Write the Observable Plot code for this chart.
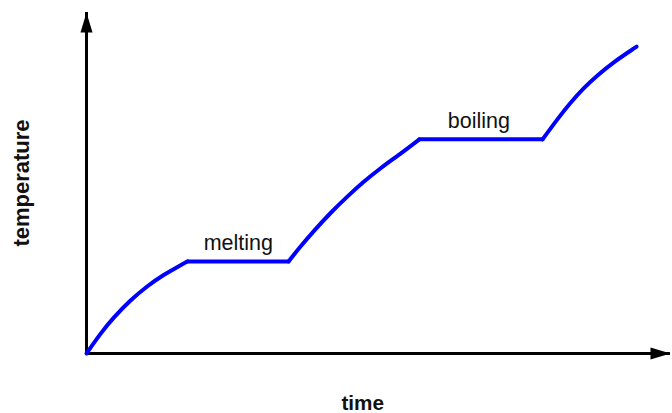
<!DOCTYPE html>
<html>
<head>
<meta charset="utf-8">
<script src="https://cdn.jsdelivr.net/npm/d3@7"></script>
<script src="https://cdn.jsdelivr.net/npm/@observablehq/plot@0.6"></script>
<style>
  html, body { margin: 0; padding: 0; background: #fff; }
  #chart svg { display: block; }
</style>
</head>
<body>
<div id="chart"></div>
<script>
// Heating curve (arbitrary units, 0–100 on both axes);
// each phase segment repeats its boundary points so the segments join.
const phase = [
  "solid","solid","solid","solid","solid","solid","solid","solid",
  "melting","melting",
  "liquid","liquid","liquid","liquid","liquid","liquid","liquid","liquid","liquid","liquid",
  "boiling","boiling",
  "gas","gas","gas","gas","gas","gas","gas"
];
const time = [
  0, 2.4, 4.6, 7.5, 10.4, 13.2, 16.1, 17.3,
  17.3, 34.6,
  34.6, 36.6, 38.9, 41.8, 44.7, 47.4, 50.3, 53.3, 56.0, 57.0,
  57.0, 78.1,
  78.1, 80.7, 82.9, 85.1, 87.5, 90.2, 94.2
];
const temperature = [
  0, 5.9, 10.5, 15.6, 19.8, 23.1, 25.9, 27.0,
  27.0, 27.0,
  27.0, 31.3, 35.9, 41.3, 46.1, 50.3, 54.3, 58.0, 61.5, 62.8,
  62.8, 62.8,
  62.8, 68.9, 73.6, 77.8, 81.6, 85.4, 90.0
];

const phaseLabels = ["melting", "boiling"];
const phaseX = [26.0, 67.2];
const phaseY = [30.4, 66.0];

const xTitle = "time";
const yTitle = "temperature";
const axisMax = 100;

const curve = time.map((t, i) => ({time: t, temperature: temperature[i], phase: phase[i]}));
const phases = phaseLabels.map((label, i) => ({label, x: phaseX[i], y: phaseY[i]}));

const arrowHead = {
  draw(ctx) {
    ctx.moveTo(0, 0);
    ctx.lineTo(6, 20);
    ctx.lineTo(-6, 20);
    ctx.closePath();
  }
};

const font = "'Liberation Sans', Arial, Helvetica, sans-serif";

const chart = Plot.plot({
  width: 672,
  height: 413,
  marginLeft: 86,
  marginRight: 2,
  marginTop: 12,
  marginBottom: 60,
  style: {fontFamily: font, background: "#fff", overflow: "visible"},
  x: {domain: [0, axisMax], axis: null},
  y: {domain: [0, axisMax], axis: null},
  marks: [
    Plot.ruleY([0], {stroke: "black", strokeWidth: 3}),
    Plot.ruleX([0], {stroke: "black", strokeWidth: 3}),
    Plot.dot([{x: 0, y: axisMax}], {x: "x", y: "y", symbol: arrowHead, fill: "black", stroke: null}),
    Plot.dot([{x: axisMax, y: 0}], {x: "x", y: "y", symbol: arrowHead, fill: "black", stroke: null, rotate: 90}),
    Plot.line(curve, {x: "time", y: "temperature", z: "phase", curve: "basis", stroke: "#0000ff", strokeWidth: 4, strokeLinejoin: "round", strokeLinecap: "round"}),
    Plot.text(phases, {x: "x", y: "y", text: "label", fontSize: 21.5, fill: "#111", lineAnchor: "bottom", textAnchor: "middle"}),
    Plot.text([xTitle], {x: [47.3], text: (d) => d, frameAnchor: "bottom", lineAnchor: "bottom", textAnchor: "middle", dy: 56, fontSize: 20.7, fontWeight: "bold", fill: "#111"}),
    Plot.text([yTitle], {y: [50], text: (d) => d, frameAnchor: "left", lineAnchor: "bottom", textAnchor: "middle", dx: -58, rotate: -90, fontSize: 22, fontWeight: "bold", fill: "#111"})
  ]
});

document.getElementById("chart").appendChild(chart);
</script>
</body>
</html>
